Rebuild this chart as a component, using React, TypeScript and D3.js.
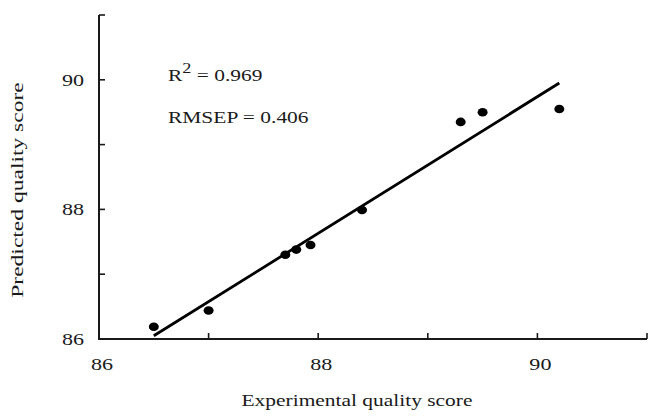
import React from 'react';
import * as d3 from 'd3';

const experimental = [86.5, 87.0, 87.7, 87.8, 87.93, 88.4, 89.3, 89.5, 90.2];
const predicted = [86.19, 86.44, 87.3, 87.38, 87.45, 87.99, 89.35, 89.5, 89.55];
// fitted regression line endpoints
const fitX = [86.5, 90.2];
const fitY = [86.05, 89.95];
const tickValues = [86, 87, 88, 89, 90, 91];
const tickLabels = [86, 88, 90];
const r2Text = '0.969';
const rmsepText = '0.406';

const W = 649;
const H = 416;
const FONT = '"Liberation Serif", "Times New Roman", serif';
const INK = '#1a1a1a';
const SX = 1.3; // the source is stretched sideways

const x = d3.scaleLinear().domain([86, 91]).range([99, 647]);
const y = d3.scaleLinear().domain([86, 91]).range([339, 15]);

const Label = ({ px, py, size, anchor = 'middle', children }) => (
  <text
    transform={`translate(${px},${py}) scale(${SX},1)`}
    textAnchor={anchor}
    fontSize={size}
    fontFamily={FONT}
    fill={INK}
  >
    {children}
  </text>
);

const App = () => {
  const line = d3
    .line()
    .x((d) => x(d[0]))
    .y((d) => y(d[1]));
  const fit = fitX.map((v, i) => [v, fitY[i]]);

  return (
    <div style={{ position: 'absolute', left: 0, top: 0 }}>
      <svg width={W} height={H} style={{ display: 'block', background: '#fff' }}>
        {/* axes */}
        <path
          d={`M${x(86)},${y(91)}V${y(86)}H${x(91)}`}
          fill="none"
          stroke={INK}
          strokeWidth={2}
        />
        {tickValues.map((t) => (
          <line key={'yt' + t} x1={x(86)} x2={x(86) + 6} y1={y(t)} y2={y(t)} stroke={INK} strokeWidth={1.6} />
        ))}
        {tickValues.map((t) => (
          <line key={'xt' + t} x1={x(t)} x2={x(t)} y1={y(86)} y2={y(86) - 6} stroke={INK} strokeWidth={1.6} />
        ))}
        {tickLabels.map((t) => (
          <Label key={'yl' + t} px={x(86) - 15} py={y(t) + 6} size={17} anchor="end">
            {t}
          </Label>
        ))}
        {tickLabels.map((t) => (
          <Label key={'xl' + t} px={x(t) + 3} py={y(86) + 31} size={17}>
            {t}
          </Label>
        ))}

        {/* axis titles */}
        <Label px={357} py={406} size={16.5}>
          Experimental quality score
        </Label>
        <text
          transform={`translate(23,190) rotate(-90) scale(1.47,1)`}
          textAnchor="middle"
          fontSize={16}
          fontFamily={FONT}
          fill={INK}
        >
          Predicted quality score
        </text>

        {/* stats */}
        <text
          transform={`translate(168,81) scale(${SX},1)`}
          fontSize={16.5}
          fontFamily={FONT}
          fill={INK}
        >
          R
          <tspan dy={-8} fontSize={14}>2</tspan>
          <tspan dy={8}>{` = ${r2Text}`}</tspan>
        </text>
        <Label px={168} py={123} size={16.5} anchor="start">
          {`RMSEP = ${rmsepText}`}
        </Label>

        {/* regression line */}
        <path d={line(fit)} fill="none" stroke="#000" strokeWidth={2.8} />

        {/* points */}
        {experimental.map((v, i) => (
          <ellipse key={i} cx={x(v)} cy={y(predicted[i])} rx={5} ry={4.3} fill="#000" />
        ))}
      </svg>
    </div>
  );
};

export default App;
